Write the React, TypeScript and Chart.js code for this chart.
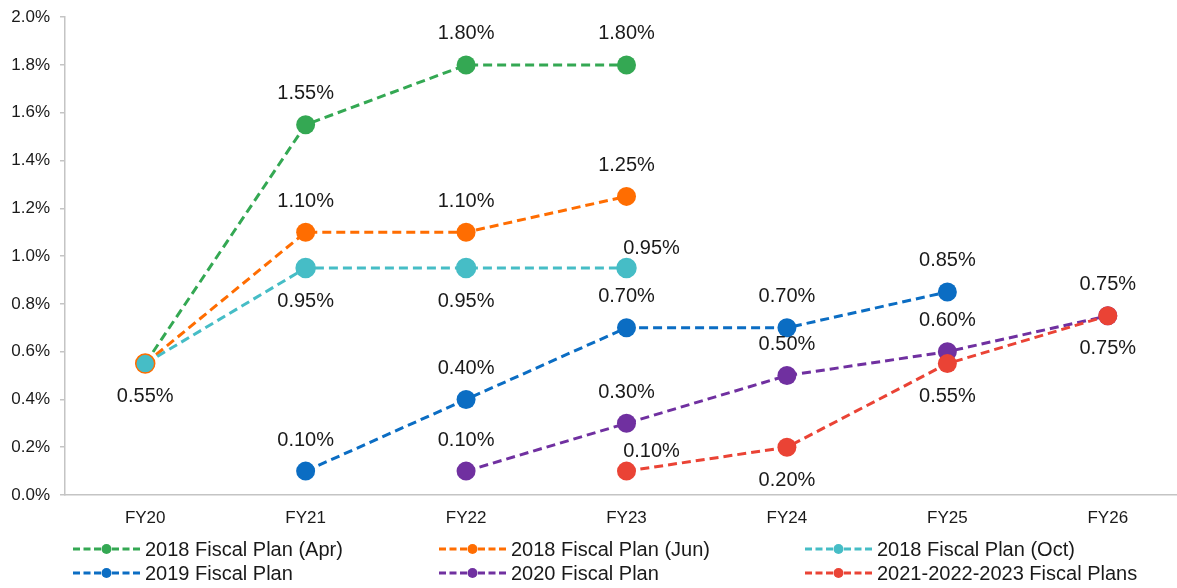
import React, { useEffect, useRef } from 'react';
import { Chart, registerables } from 'chart.js';

Chart.register(...registerables);

const categories = ['FY20', 'FY21', 'FY22', 'FY23', 'FY24', 'FY25', 'FY26'];

const seriesNames = [
  '2018 Fiscal Plan (Apr)',
  '2018 Fiscal Plan (Jun)',
  '2018 Fiscal Plan (Oct)',
  '2019 Fiscal Plan',
  '2020 Fiscal Plan',
  '2021-2022-2023 Fiscal Plans',
];

const plan2018Apr = [0.55, 1.55, 1.8, 1.8, null, null, null];
const plan2018Jun = [0.55, 1.1, 1.1, 1.25, null, null, null];
const plan2018Oct = [0.55, 0.95, 0.95, 0.95, null, null, null];
const plan2019 = [null, 0.1, 0.4, 0.7, 0.7, 0.85, null];
const plan2020 = [null, null, 0.1, 0.3, 0.5, 0.6, 0.75];
const plan2021to2023 = [null, null, null, 0.1, 0.2, 0.55, 0.75];

const yMin = 0;
const yMax = 2.0;
const yStep = 0.2;

// label placement per point (display config)
const labelPlacement = [
  [null, 'above', 'above', 'above', null, null, null],
  [null, 'above', 'above', 'above', null, null, null],
  ['below', 'below', 'below', 'rightAbove', null, null, null],
  [null, 'above', 'above', 'above', 'above', 'above', null],
  [null, null, 'above', 'above', 'above', 'above', 'above'],
  [null, null, null, 'rightAbove', 'below', 'below', 'below'],
];

const colors = ['#34a853', '#ff6d01', '#46bdc6', '#0b6dc3', '#7030a0', '#ea4335'];

const FONT = "'Liberation Sans', Arial, sans-serif";

const labelPlugin = {
  id: 'pointLabels',
  afterDatasetsDraw(chart: any) {
    const ctx = chart.ctx;
    ctx.save();
    ctx.font = `20px ${FONT}`;
    ctx.fillStyle = '#1a1a1a';
    ctx.textAlign = 'center';
    ctx.textBaseline = 'middle';
    chart.data.datasets.forEach((ds: any, di: number) => {
      const meta = chart.getDatasetMeta(di);
      ds.data.forEach((v: any, i: number) => {
        const place = labelPlacement[di][i];
        if (v == null || !place) return;
        const pt = meta.data[i];
        let x = pt.x;
        let y = pt.y;
        if (place === 'above') y -= 31;
        else if (place === 'below') y += 33;
        else if (place === 'rightAbove') {
          x += 25;
          y -= 20;
        }
        ctx.fillText(v.toFixed(2) + '%', x, y);
      });
    });
    ctx.restore();
  },
};

const legendPlugin = {
  id: 'gridLegend',
  afterDraw(chart: any) {
    const ctx = chart.ctx;
    const colX = [73, 439, 805];
    const rowY = [552, 576];
    ctx.save();
    chart.data.datasets.forEach((ds: any, i: number) => {
      const x0 = colX[i % 3];
      const y = rowY[Math.floor(i / 3)];
      ctx.strokeStyle = ds.borderColor;
      ctx.lineWidth = 3;
      ctx.setLineDash([7, 3.5]);
      ctx.beginPath();
      ctx.moveTo(x0, y);
      ctx.lineTo(x0 + 28, y);
      ctx.stroke();
      ctx.beginPath();
      ctx.moveTo(x0 + 39, y);
      ctx.lineTo(x0 + 67, y);
      ctx.stroke();
      ctx.setLineDash([]);
      ctx.fillStyle = ds.borderColor;
      ctx.beginPath();
      ctx.arc(x0 + 33.5, y, 5, 0, Math.PI * 2);
      ctx.fill();
      ctx.fillStyle = '#1a1a1a';
      ctx.font = `20px ${FONT}`;
      ctx.textAlign = 'left';
      ctx.textBaseline = 'middle';
      ctx.fillText(ds.label, x0 + 72, y + 1);
    });
    ctx.restore();
  },
};

export default function App() {
  const ref = useRef<HTMLCanvasElement>(null);

  useEffect(() => {
    if (!ref.current) return;
    const series = [plan2018Apr, plan2018Jun, plan2018Oct, plan2019, plan2020, plan2021to2023];
    const chart = new Chart(ref.current, {
      type: 'line',
      data: {
        labels: categories,
        datasets: series.map((data, i) => ({
          label: seriesNames[i],
          data,
          borderColor: colors[i],
          backgroundColor: colors[i],
          borderWidth: 3,
          borderDash: [9, 5],
          pointRadius: 9.5,
          pointHoverRadius: 9.5,
          pointBackgroundColor: colors[i],
          pointBorderColor: i === 2 ? data.map((_, j) => (j === 0 ? colors[1] : colors[i])) : colors[i],
          pointBorderWidth: i === 2 ? 1.5 : 0,
          fill: false,
          tension: 0,
          order: 10 - i,
        })),
      },
      options: {
        responsive: false,
        animation: false,
        layout: { padding: { left: 0, right: 8, top: 13, bottom: 0 } },
        plugins: {
          legend: { display: false },
          tooltip: { enabled: false },
        },
        scales: {
          x: {
            type: 'category',
            offset: true,
            grid: { display: false, drawTicks: false },
            border: { display: true, color: '#c4c4c4', width: 1.5 },
            ticks: {
              color: '#1a1a1a',
              font: { family: FONT, size: 17 },
              padding: 13,
              maxRotation: 0,
            },
            afterFit(scale: any) {
              scale.height = 93;
            },
          },
          y: {
            min: yMin,
            max: yMax,
            grid: {
              drawOnChartArea: false,
              drawTicks: true,
              tickLength: 5,
              color: '#c4c4c4',
              lineWidth: 1.5,
            },
            border: { display: true, color: '#c4c4c4', width: 1.5 },
            ticks: {
              stepSize: yStep,
              color: '#1a1a1a',
              font: { family: FONT, size: 17 },
              padding: 10,
              callback: (v: any) => Number(v).toFixed(1) + '%',
            },
            afterFit(scale: any) {
              scale.width = 65;
            },
          },
        },
      },
      plugins: [labelPlugin, legendPlugin],
    });
    return () => chart.destroy();
  }, []);

  return (
    <div
      style={{
        position: 'absolute',
        left: 0,
        top: 0,
        width: 1177,
        height: 588,
        overflow: 'hidden',
        background: '#fff',
      }}
    >
      <canvas
        ref={ref}
        width={1199}
        height={591}
        style={{ width: 1199, height: 591, display: 'block', position: 'absolute', left: 0, top: -3 }}
      />
    </div>
  );
}
